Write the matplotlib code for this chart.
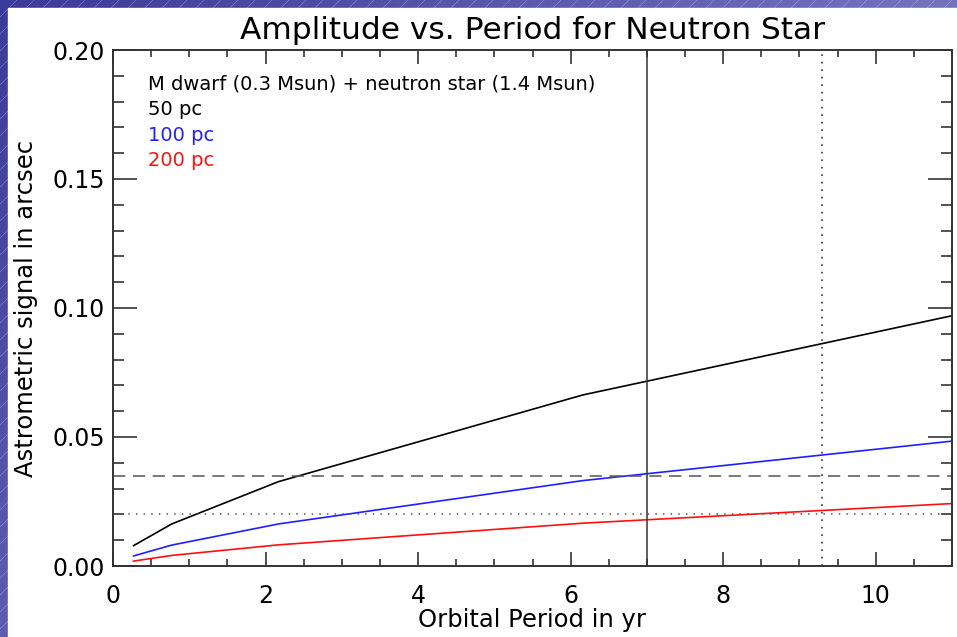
import matplotlib.pyplot as plt
import numpy as np
from matplotlib.ticker import MultipleLocator

# orbital period (yr) at the nodes of each curve
period = [0.27, 0.77, 2.17, 6.16, 11.0]
# astrometric signal (arcsec) at 50, 100 and 200 pc
sig_50 = [0.0079, 0.0163, 0.0327, 0.0663, 0.0970]
sig_100 = [0.0039, 0.0081, 0.0163, 0.0331, 0.0484]
sig_200 = [0.0019, 0.0041, 0.0082, 0.0166, 0.0242]

dash_level = 0.035
dot_level = 0.020
p_solid = 7.0
p_dot = 9.3

labels = ['50 pc', '100 pc', '200 pc']
colors = ['black', '#2020ff', '#ff1010']

W, H = 957, 637
fig = plt.figure(figsize=(W / 100, H / 100), dpi=100)

# slide background: blue gradient with light diagonal stripes
bg = fig.add_axes([0, 0, 1, 1], zorder=-10)
yy, xx = np.mgrid[0:H, 0:W]
t = 0.75 * xx / W + 0.45 * yy / H
c0 = np.array([0x3a, 0x3a, 0x9a]) / 255
c1 = np.array([0x86, 0x86, 0xcc]) / 255
img = c0 + (c1 - c0) * np.clip(t, 0, 1)[..., None]
bg.imshow(img, extent=[0, W, 0, H], origin='upper', aspect='auto')
for k in range(-H, W + H, 17):
    bg.plot([k, k + H], [0, H], color='white', lw=0.6, alpha=0.25)
bg.add_patch(plt.Rectangle((8, 0), W - 8, H - 8, color='white', zorder=5))
bg.set_xlim(0, W)
bg.set_ylim(0, H)
bg.axis('off')

ax = fig.add_axes([113 / W, 71 / H, 839 / W, 516 / H])
ax.set_facecolor('none')

for s, lab, col in zip([sig_50, sig_100, sig_200], labels, colors):
    ax.plot(period, s, color=col, lw=1.2)

ax.axhline(dash_level, color='#555555', lw=1.1, ls=(0, (8, 5)))
ax.axhline(dot_level, color='#555555', lw=1.1, ls=(0, (1, 4)))
ax.axvline(p_solid, color='#333333', lw=1.1)
ax.axvline(p_dot, color='#333333', lw=1.2, ls=(0, (1, 3.5)))

ax.set_xlim(0, 11)
ax.set_ylim(0, 0.2)
ax.xaxis.set_major_locator(MultipleLocator(2))
ax.xaxis.set_minor_locator(MultipleLocator(0.5))
ax.yaxis.set_major_locator(MultipleLocator(0.05))
ax.yaxis.set_minor_locator(MultipleLocator(0.01))
ax.yaxis.set_major_formatter(plt.FormatStrFormatter('%.2f'))
ax.tick_params(axis='x', which='major', direction='in', length=10, top=True,
               width=1.2, labelsize=17, pad=13, color='#333333')
ax.tick_params(axis='x', which='minor', direction='in', length=5, top=True,
               width=1.2, color='#333333')
ax.tick_params(axis='y', which='major', direction='in', length=17, right=True,
               width=1.2, labelsize=17, pad=6, color='#333333')
ax.tick_params(axis='y', which='minor', direction='in', length=8, right=True,
               width=1.2, color='#333333')
for sp in ax.spines.values():
    sp.set_color('#333333')
    sp.set_linewidth(1.4)

ax.set_title('Amplitude vs. Period for Neutron Star', fontsize=22.5, pad=8)
ax.set_xlabel('Orbital Period in yr', fontsize=17.5, labelpad=0)
ax.set_ylabel('Astrometric signal in arcsec', fontsize=17.5, labelpad=10)

ax.text(0.042, 0.935, 'M dwarf (0.3 Msun) + neutron star (1.4 Msun)',
        transform=ax.transAxes, fontsize=14, va='center')
for i, (lab, col) in enumerate(zip(labels, colors)):
    ax.text(0.042, 0.885 - 0.05 * i, lab, color=col,
            transform=ax.transAxes, fontsize=14, va='center')

fig.savefig('out.png', dpi=100)
